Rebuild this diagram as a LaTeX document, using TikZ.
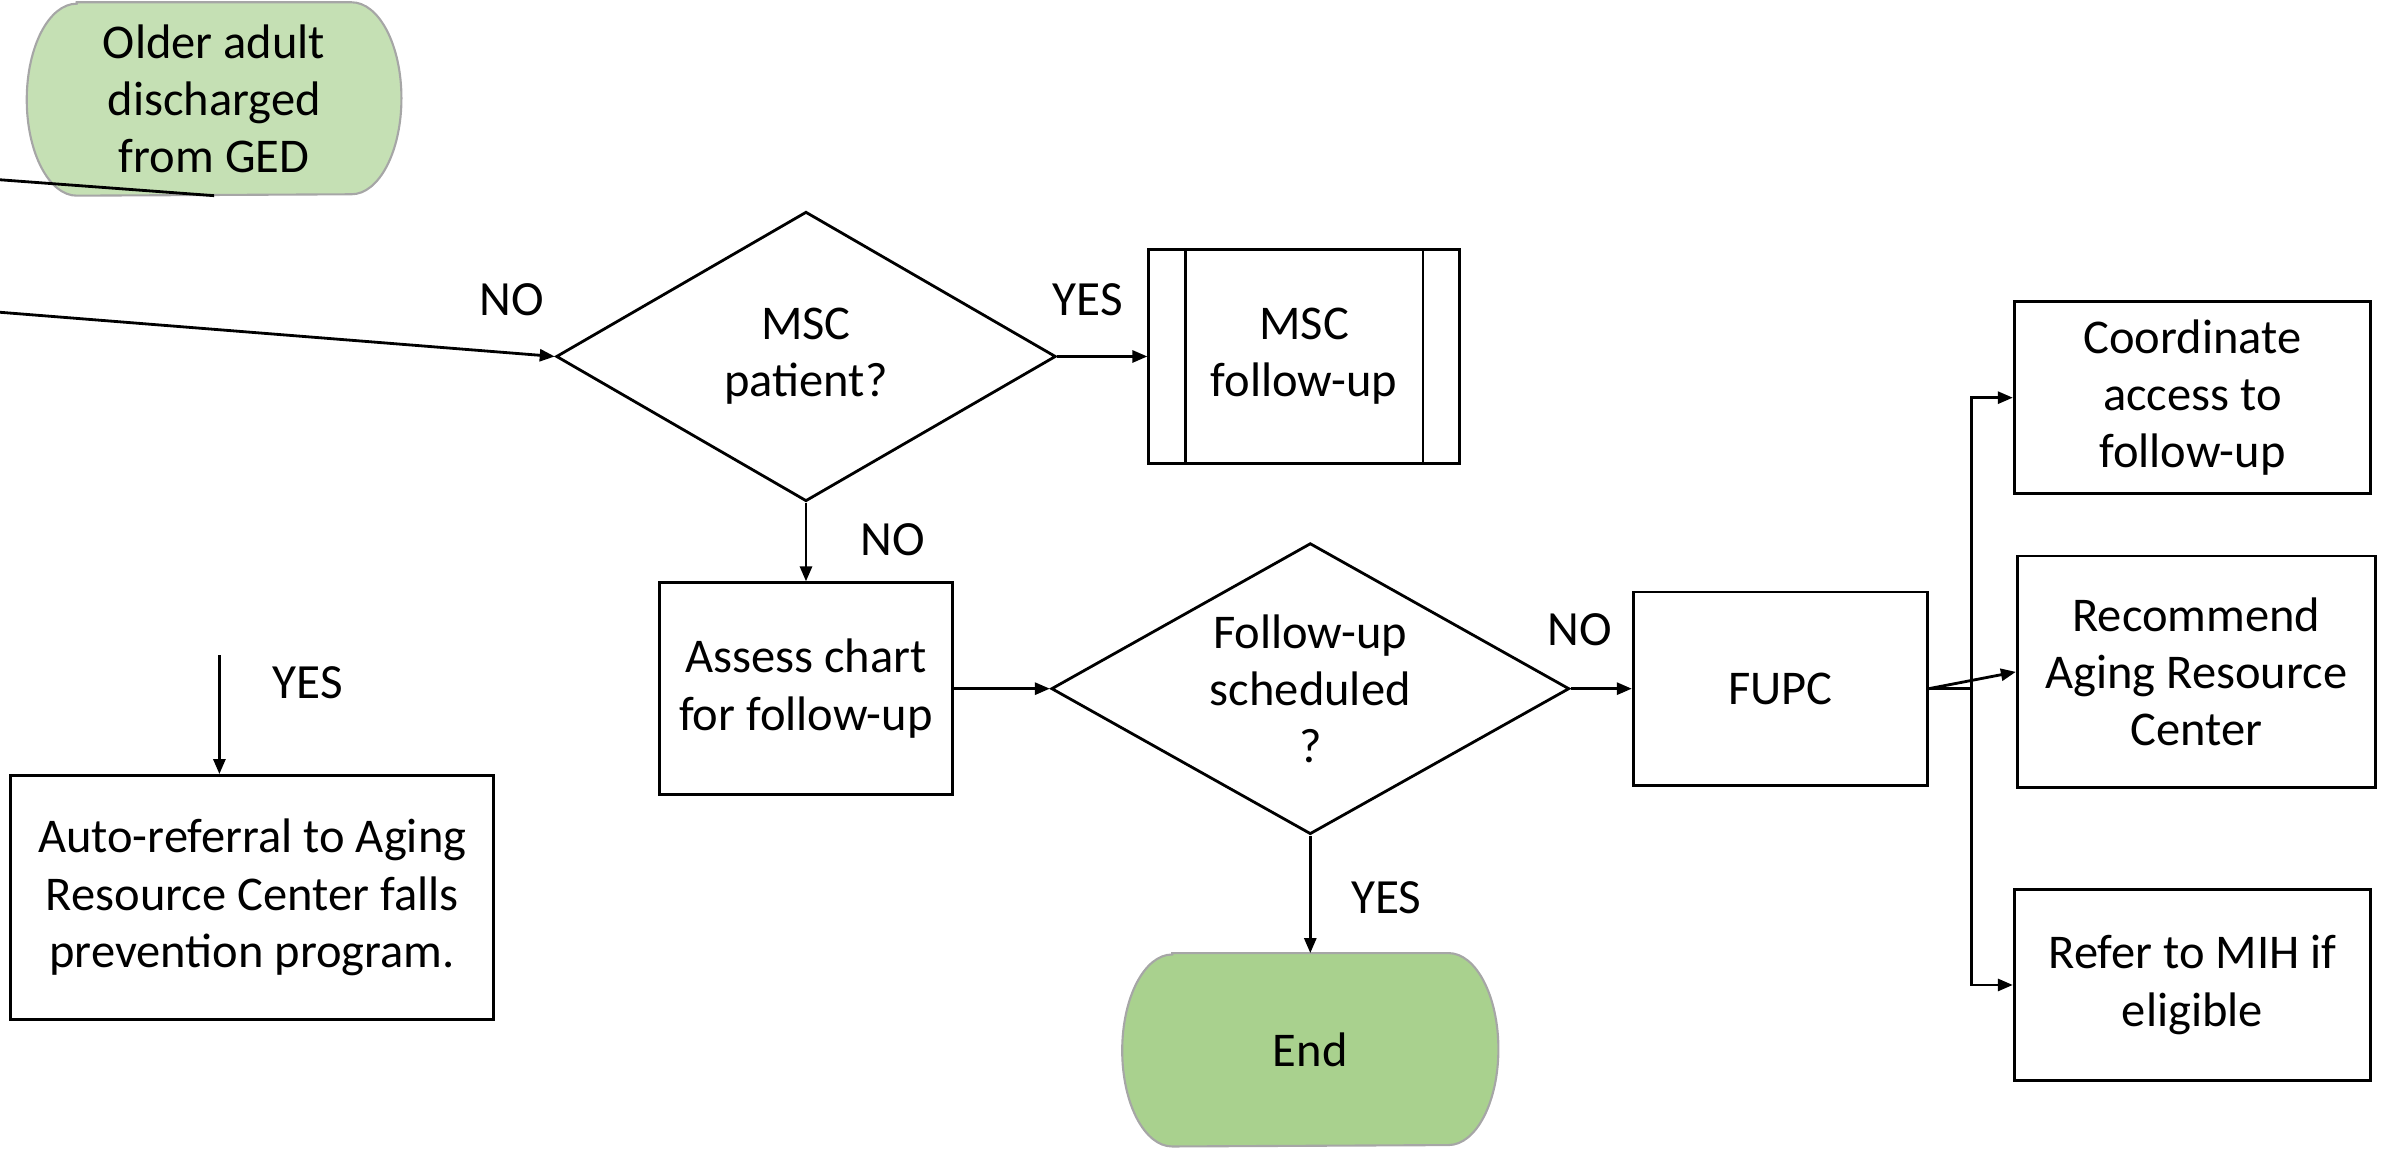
\documentclass[tikz,border=0pt]{standalone}
\usepackage{fontspec}
\setmainfont{Carlito}
\usetikzlibrary{shapes.geometric,arrows.meta,backgrounds}
\definecolor{startgreen}{HTML}{C5E0B4}
\definecolor{endgreen}{HTML}{A9D18E}
\definecolor{rimgray}{HTML}{A6A6A6}
\tikzset{
    flow/.style={font=\fontsize{13.8}{16.3}\selectfont, align=center},
    box/.style={flow, rectangle, draw, line width=0.8pt, inner sep=0pt},
    decision/.style={flow, diamond, draw, line width=0.8pt, inner sep=0pt, aspect=1.75},
    terminal/.style={flow, inner sep=0pt, minimum height=1.92cm},
    arrow/.style={-{Triangle[length=0.15cm,width=0.12cm]}, line width=0.8pt},
    line/.style={line width=0.8pt},
    answer/.style={font=\fontsize{14}{16}\selectfont}
}
% outline of a start/end node, drawn behind it
\newcommand{\termshape}[2]{%
  \draw[fill=#2, draw=rimgray, line width=0.6pt]
    ([xshift=0.5cm]#1.north west) -- ([xshift=-0.5cm]#1.north east)
    arc[start angle=90, end angle=-90, x radius=0.5cm, y radius=0.96cm]
    -- ([xshift=0.5cm]#1.south west)
    arc[start angle=270, end angle=90, x radius=0.5cm, y radius=0.96cm] -- cycle;}

\begin{document}
\begin{tikzpicture}
\useasboundingbox (0,0) rectangle (23.890,11.488);

% Start
\node[terminal, minimum width=3.733cm] (start) at (2.141,10.498) {Older adult\\discharged\\from GED};
\begin{scope}[on background layer]
\termshape{start}{startgreen}
\end{scope}

% MSC decision
\node[decision, minimum width=4.997cm, minimum height=2.895cm] (msc) at (8.060,7.923) {MSC\\patient?};
\node[box, minimum width=3.108cm, minimum height=2.133cm] (mscfu) at (13.042,7.923) {MSC\\follow-up};
\draw[line] ([xshift=0.381cm]mscfu.north west) -- ([xshift=0.381cm]mscfu.south west);
\draw[line] ([xshift=-0.381cm]mscfu.north east) -- ([xshift=-0.381cm]mscfu.south east);

% Chart check
\node[box, minimum width=2.925cm, minimum height=2.118cm] (assess) at (8.060,4.601) {Assess chart\\for follow-up};
\node[decision, minimum width=5.180cm, minimum height=2.910cm] (sched) at (13.103,4.601) {Follow-up\\scheduled\\?};
\node[box, minimum width=2.941cm, minimum height=1.935cm] (fupc) at (17.803,4.601) {FUPC};

% End
\node[terminal, minimum width=3.748cm] (end) at (13.103,0.990) {End};
\begin{scope}[on background layer]
\termshape{end}{endgreen}
\end{scope}

% FUPC actions
\node[box, minimum width=3.565cm, minimum height=1.920cm] (coord) at (21.925,7.511) {Coordinate\\access to\\follow-up};
\node[box, minimum width=3.580cm, minimum height=2.316cm] (rec) at (21.963,4.769) {Recommend\\Aging Resource\\Center};
\node[box, minimum width=3.565cm, minimum height=1.905cm] (refer) at (21.925,1.638) {Refer to MIH if\\eligible};

% Auto-referral
\node[box, minimum width=4.830cm, minimum height=2.438cm] (auto) at (2.522,2.514) {Auto-referral to Aging\\Resource Center falls\\prevention program.};

% Answers
\node[answer] (no1) at (5.119,8.486) {NO};
\node[answer] (yes1) at (10.879,8.486) {YES};
\node[answer] (no2) at (8.928,6.094) {NO};
\node[answer] (no3) at (15.800,5.195) {NO};
\node[answer] (yes2) at (13.865,2.514) {YES};
\node[answer] (yes3) at (3.078,4.662) {YES};

% Connectors
\coordinate (lfree1) at (0,9.690);
\coordinate (lfree2) at (0,8.365);
\coordinate (yfree) at (2.194,4.936);
\coordinate (bus) at (19.715,4.601);
\draw[line] (lfree1) -- (start.south);
\draw[arrow] (lfree2) -- (msc.west);
\draw[arrow] (msc.east) -- (mscfu.west);
\draw[arrow] (msc.south) -- (assess.north);
\draw[arrow] (assess.east) -- (sched.west);
\draw[arrow] (sched.east) -- (fupc.west);
\draw[arrow] (sched.south) -- (end.north);
\draw[line] (fupc.east) -- (bus);
\draw[arrow] (bus) |- (coord.west);
\draw[arrow] (bus) |- (refer.west);
\draw[arrow] (fupc.east) -- (rec.west);
\draw[arrow] (yfree) -- (yfree |- auto.north);
\end{tikzpicture}
\end{document}
